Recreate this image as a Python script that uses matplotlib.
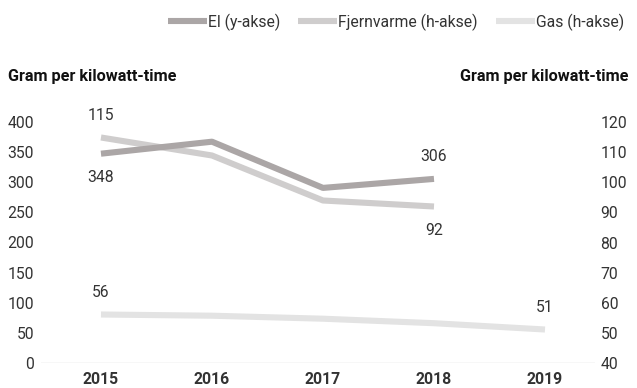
import matplotlib.pyplot as plt
import numpy as np

plt.rcParams['font.family'] = ['Roboto', 'DejaVu Sans']

# Gram CO2 per kilowatt-time
years = ['2015', '2016', '2017', '2018', '2019']
el = [348, 368, 291, 306]            # venstre akse
fjernvarme = [115, 109, 94, 92]      # højre akse
gas = [56, 55.6, 54.6, 53.1, 51]     # højre akse

c_el = '#aba6a6'
c_fjern = '#cfcdcd'
c_gas = '#e3e3e3'
txt = '#333333'
fs = 11.3

fig = plt.figure(figsize=(6.37, 3.88), dpi=100)
ax = fig.add_axes([0.0644, 0.0657, 0.8696, 0.6186])
ax2 = ax.twinx()

x = np.arange(len(years))
lw = 4.4
ax.plot(x[:4], el, color=c_el, lw=lw, solid_capstyle='butt', zorder=3, label='El (y-akse)')
ax2.plot(x[:4], fjernvarme, color=c_fjern, lw=lw, solid_capstyle='butt', zorder=2, label='Fjernvarme (h-akse)')
ax2.plot(x, gas, color=c_gas, lw=lw, solid_capstyle='butt', zorder=1, label='Gas (h-akse)')

ax.set_zorder(ax2.get_zorder() + 1)
ax.patch.set_visible(False)

ax.set_xlim(-0.54, 4.45)
ax.set_ylim(0, 400)
ax2.set_ylim(40, 120)
ax.set_yticks(range(0, 401, 50))
ax2.set_yticks(range(40, 121, 10))
ax.set_xticks(x)
ax.set_xticklabels(years, fontweight='bold', fontsize=fs + 0.4, color='#111111')

for a in (ax, ax2):
    for s in a.spines.values():
        s.set_visible(False)
    a.tick_params(length=0, labelsize=fs, colors=txt)
ax.tick_params(axis='y', pad=5)
ax2.tick_params(axis='y', pad=4)
ax.tick_params(axis='x', pad=7)
ax.axhline(0, color='#d9d9d9', lw=1, zorder=0)

def lab(a, xi, yi, s, dy):
    a.annotate(s, (xi, yi), xytext=(0, dy), textcoords='offset points',
               ha='center', va='center', fontsize=fs, color=txt, annotation_clip=False)

lab(ax, 0, el[0], str(el[0]), -17)
lab(ax, 3, el[3], str(el[3]), 16)
lab(ax2, 0, fjernvarme[0], str(fjernvarme[0]), 16)
lab(ax2, 3, fjernvarme[3], str(fjernvarme[3]), -17)
lab(ax2, 0, gas[0], str(gas[0]), 16)
lab(ax2, 4, gas[4], '51', 16)

fig.text(8 / 637, 1 - 76 / 388, 'Gram per kilowatt-time', fontsize=fs + 0.4, fontweight='bold',
         color='#111111', ha='left', va='center')
fig.text(629 / 637, 1 - 76 / 388, 'Gram per kilowatt-time', fontsize=fs + 0.4, fontweight='bold',
         color='#111111', ha='right', va='center')

h1, l1 = ax.get_legend_handles_labels()
h2, l2 = ax2.get_legend_handles_labels()
fig.legend(h1 + h2, l1 + l2, loc='center right', bbox_to_anchor=(630 / 637, 1 - 22 / 388),
           ncol=3, frameon=False, fontsize=fs, handlelength=2.5, handletextpad=0.05,
           columnspacing=1.15, labelcolor=txt, borderaxespad=0)

fig.savefig('out.png', dpi=100)
